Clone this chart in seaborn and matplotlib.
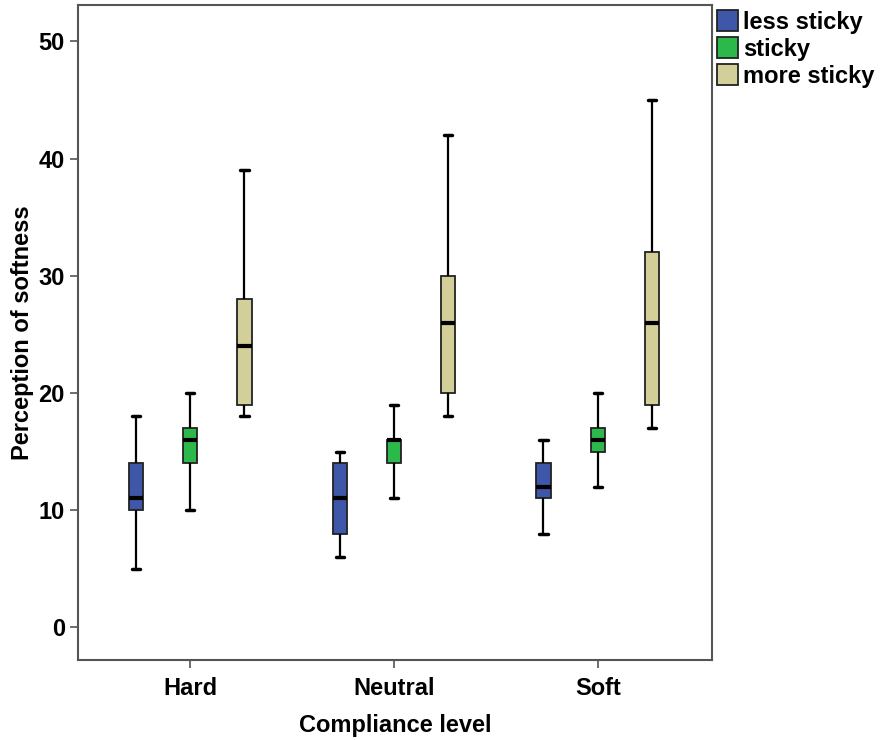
import pandas as pd
import matplotlib
matplotlib.use('Agg')
import matplotlib.pyplot as plt
import seaborn as sns

# five-number summaries: min, q1, median, q3, max
compliance = ['Hard', 'Neutral', 'Soft']
stickiness = ['less sticky', 'sticky', 'more sticky']
hard_less = [5, 10, 11, 14, 18]
hard_sticky = [10, 14, 16, 17, 20]
hard_more = [18, 19, 24, 28, 39]
neutral_less = [6, 8, 11, 14, 15]
neutral_sticky = [11, 14, 16, 16, 19]
neutral_more = [18, 20, 26, 30, 42]
soft_less = [8, 11, 12, 14, 16]
soft_sticky = [12, 15, 16, 17, 20]
soft_more = [17, 19, 26, 32, 45]
colors = ['#3E57A9', '#2DB84B', '#D3CF98']

groups = {
    ('Hard', 'less sticky'): hard_less, ('Hard', 'sticky'): hard_sticky, ('Hard', 'more sticky'): hard_more,
    ('Neutral', 'less sticky'): neutral_less, ('Neutral', 'sticky'): neutral_sticky, ('Neutral', 'more sticky'): neutral_more,
    ('Soft', 'less sticky'): soft_less, ('Soft', 'sticky'): soft_sticky, ('Soft', 'more sticky'): soft_more,
}
rows = []
for (c, s), vals in groups.items():
    for v in vals:
        rows.append({'Compliance level': c, 'stickiness': s, 'Perception of softness': v})
df = pd.DataFrame(rows)

sns.set_style('white')
plt.rcParams['font.family'] = ['Liberation Sans', 'DejaVu Sans']
plt.rcParams['font.weight'] = 'bold'
plt.rcParams['text.color'] = 'black'
plt.rcParams['axes.labelcolor'] = 'black'
plt.rcParams['xtick.color'] = 'black'
plt.rcParams['ytick.color'] = 'black'

fig = plt.figure(figsize=(8.8, 7.4), dpi=100)
ax = fig.add_axes([0.0886, 0.108, 0.7205, 0.885])

sns.boxplot(data=df, x='Compliance level', y='Perception of softness', hue='stickiness',
            order=compliance, hue_order=stickiness, palette=colors, saturation=1,
            width=0.8, gap=0.74, whis=(0, 100), showfliers=False,
            linecolor='#222222', linewidth=1.3,
            medianprops={'color': 'black', 'linewidth': 3},
            whiskerprops={'color': 'black', 'linewidth': 1.6},
            capprops={'color': 'black', 'linewidth': 2.5},
            capwidths=0.04, ax=ax)

ax.set_ylim(-2.8, 53.1)
ax.set_xlim(-0.55, 2.56)
ax.set_yticks([0, 10, 20, 30, 40, 50])
ax.set_xlabel('Compliance level', fontsize=17, fontweight='bold', labelpad=10, color='black')
ax.set_ylabel('Perception of softness', fontsize=17, fontweight='bold', labelpad=3, color='black')
ax.tick_params(axis='both', labelsize=17, length=6, width=1.2, color='#555555', direction='out',
               left=True, bottom=True, labelcolor='black')
ax.tick_params(axis='x', pad=6)
for sp in ax.spines.values():
    sp.set_color('#555555')
    sp.set_linewidth(1.5)

leg = ax.legend(loc='upper left', bbox_to_anchor=(1.0, 1.0), borderaxespad=0.1, frameon=False,
                fontsize=17, handlelength=0.9, handleheight=1.0, handletextpad=0.2,
                labelspacing=0.15, borderpad=0.1)
for t in leg.get_texts():
    t.set_fontweight('bold')
    t.set_color('black')

fig.savefig('out.png', dpi=100)
